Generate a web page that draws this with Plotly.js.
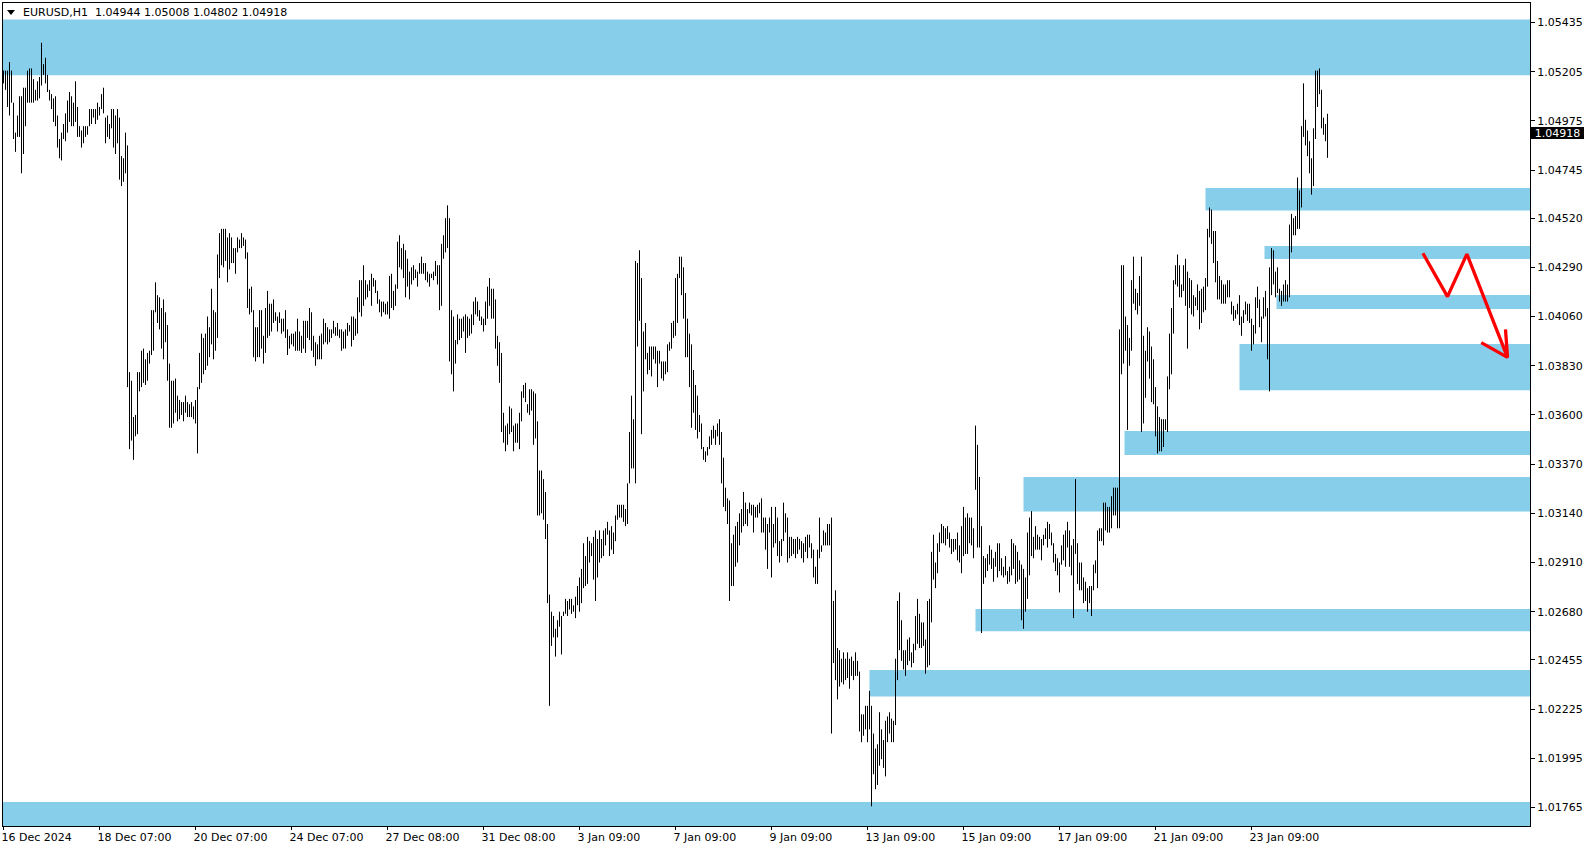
<!DOCTYPE html>
<html><head><meta charset="utf-8">
<script src="https://cdn.plot.ly/plotly-3.0.1.min.js"></script>
<style>html,body{margin:0;padding:0;background:#fff;overflow:hidden}#chart{width:1594px;height:850px}</style>
</head><body><div id="chart"></div>
<script>
// ---- data ----
const symbolLabel = "EURUSD,H1";
const lastBar = {open: 1.04944, high: 1.05008, low: 1.04802, close: 1.04918};

const barHigh = [
1.0521,1.0521,1.0521,1.0525,1.0521,1.0506,1.0492,1.0500,1.0509,1.0509,
1.0513,1.0513,1.0521,1.0522,1.0522,1.0517,1.0512,1.0516,1.0518,1.0534,
1.0524,1.0527,1.0519,1.0512,1.0510,1.0508,1.0509,1.0500,1.0489,1.0492,
1.0496,1.0501,1.0507,1.0511,1.0509,1.0506,1.0516,1.0504,1.0495,1.0493,
1.0495,1.0495,1.0495,1.0503,1.0503,1.0503,1.0503,1.0506,1.0504,1.0510,
1.0513,1.0499,1.0500,1.0496,1.0503,1.0503,1.0500,1.0503,1.0499,1.0481,
1.0480,1.0492,1.0486,1.0380,1.0376,1.0359,1.0360,1.0380,1.0380,1.0390,
1.0391,1.0386,1.0389,1.0390,1.0409,1.0409,1.0422,1.0416,1.0415,1.0410,
1.0414,1.0408,1.0402,1.0384,1.0376,1.0376,1.0377,1.0369,1.0367,1.0366,
1.0366,1.0369,1.0366,1.0365,1.0366,1.0364,1.0367,1.0373,1.0389,1.0398,
1.0396,1.0398,1.0406,1.0401,1.0419,1.0409,1.0408,1.0435,1.0445,1.0447,
1.0447,1.0447,1.0443,1.0445,1.0443,1.0438,1.0438,1.0443,1.0442,1.0445,
1.0443,1.0442,1.0436,1.0419,1.0420,1.0409,1.0401,1.0401,1.0409,1.0409,
1.0397,1.0410,1.0418,1.0412,1.0412,1.0414,1.0408,1.0406,1.0408,1.0405,
1.0405,1.0409,1.0400,1.0397,1.0398,1.0398,1.0399,1.0405,1.0399,1.0397,
1.0404,1.0404,1.0404,1.0410,1.0408,1.0397,1.0394,1.0393,1.0397,1.0398,
1.0405,1.0403,1.0401,1.0400,1.0400,1.0404,1.0401,1.0403,1.0400,1.0400,
1.0399,1.0400,1.0403,1.0402,1.0406,1.0406,1.0405,1.0415,1.0423,1.0423,
1.0430,1.0423,1.0421,1.0423,1.0426,1.0424,1.0423,1.0418,1.0414,1.0413,
1.0413,1.0412,1.0413,1.0425,1.0426,1.0418,1.0421,1.0441,1.0444,1.0438,
1.0440,1.0437,1.0433,1.0427,1.0429,1.0430,1.0428,1.0427,1.0431,1.0434,
1.0431,1.0431,1.0427,1.0426,1.0426,1.0427,1.0432,1.0430,1.0430,1.0440,
1.0444,1.0452,1.0458,1.0452,1.0409,1.0406,1.0395,1.0407,1.0405,1.0405,
1.0406,1.0407,1.0406,1.0405,1.0407,1.0413,1.0415,1.0413,1.0409,1.0406,
1.0405,1.0413,1.0420,1.0424,1.0419,1.0419,1.0414,1.0397,1.0394,1.0389,
1.0361,1.0355,1.0356,1.0364,1.0363,1.0355,1.0356,1.0356,1.0361,1.0371,
1.0374,1.0375,1.0365,1.0372,1.0372,1.0371,1.0370,1.0357,1.0334,1.0334,
1.0330,1.0324,1.0309,1.0276,1.0268,1.0266,1.0260,1.0264,1.0268,1.0266,
1.0268,1.0274,1.0273,1.0274,1.0274,1.0271,1.0275,1.0280,1.0284,1.0288,
1.0300,1.0294,1.0303,1.0301,1.0300,1.0303,1.0306,1.0302,1.0306,1.0302,
1.0306,1.0307,1.0310,1.0306,1.0308,1.0305,1.0313,1.0318,1.0318,1.0318,
1.0318,1.0316,1.0328,1.0352,1.0369,1.0358,1.0432,1.0431,1.0437,1.0424,
1.0399,1.0403,1.0389,1.0392,1.0392,1.0392,1.0392,1.0390,1.0390,1.0385,
1.0385,1.0385,1.0393,1.0394,1.0403,1.0404,1.0424,1.0426,1.0434,1.0434,
1.0429,1.0417,1.0405,1.0398,1.0393,1.0381,1.0374,1.0369,1.0360,1.0356,
1.0345,1.0343,1.0345,1.0350,1.0353,1.0355,1.0353,1.0356,1.0358,1.0352,
1.0340,1.0326,1.0321,1.0320,1.0300,1.0304,1.0308,1.0310,1.0314,1.0316,
1.0324,1.0319,1.0316,1.0319,1.0318,1.0318,1.0317,1.0318,1.0319,1.0321,
1.0312,1.0312,1.0309,1.0312,1.0317,1.0309,1.0317,1.0312,1.0301,1.0302,
1.0319,1.0314,1.0312,1.0303,1.0303,1.0302,1.0302,1.0303,1.0302,1.0301,
1.0300,1.0303,1.0304,1.0304,1.0300,1.0297,1.0289,1.0297,1.0312,1.0299,
1.0306,1.0305,1.0309,1.0309,1.0312,1.0273,1.0278,1.0251,1.0250,1.0246,
1.0249,1.0246,1.0249,1.0246,1.0247,1.0245,1.0249,1.0245,1.0240,1.0220,
1.0220,1.0224,1.0224,1.0231,1.0224,1.0211,1.0204,1.0206,1.0221,1.0213,
1.0208,1.0217,1.0219,1.0221,1.0218,1.0217,1.0246,1.0273,1.0277,1.0264,
1.0250,1.0250,1.0255,1.0256,1.0249,1.0253,1.0266,1.0274,1.0267,1.0263,
1.0263,1.0255,1.0273,1.0274,1.0296,1.0304,1.0291,1.0300,1.0305,1.0309,
1.0308,1.0307,1.0308,1.0305,1.0302,1.0302,1.0302,1.0305,1.0299,1.0308,
1.0317,1.0312,1.0314,1.0312,1.0312,1.0307,1.0355,1.0346,1.0331,1.0308,
1.0294,1.0293,1.0295,1.0299,1.0297,1.0293,1.0296,1.0300,1.0300,1.0293,
1.0289,1.0294,1.0287,1.0289,1.0302,1.0300,1.0299,1.0296,1.0292,1.0290,
1.0288,1.0284,1.0305,1.0312,1.0315,1.0303,1.0308,1.0304,1.0303,1.0302,
1.0304,1.0307,1.0310,1.0309,1.0305,1.0300,1.0295,1.0293,1.0291,1.0299,
1.0304,1.0306,1.0310,1.0306,1.0299,1.0302,1.0330,1.0300,1.0291,1.0291,
1.0284,1.0282,1.0279,1.0280,1.0280,1.0290,1.0292,1.0306,1.0307,1.0307,
1.0319,1.0319,1.0317,1.0317,1.0322,1.0326,1.0326,1.0326,1.0400,1.0430,
1.0430,1.0406,1.0402,1.0396,1.0423,1.0434,1.0419,1.0417,1.0425,1.0434,
1.0397,1.0390,1.0401,1.0399,1.0392,1.0386,1.0373,1.0364,1.0359,1.0358,
1.0358,1.0358,1.0378,1.0398,1.0410,1.0423,1.0430,1.0435,1.0430,1.0421,
1.0430,1.0433,1.0427,1.0424,1.0423,1.0416,1.0415,1.0421,1.0418,1.0419,
1.0420,1.0424,1.0447,1.0457,1.0456,1.0446,1.0446,1.0432,1.0425,1.0423,
1.0421,1.0421,1.0423,1.0423,1.0413,1.0411,1.0409,1.0412,1.0416,1.0406,
1.0409,1.0413,1.0412,1.0412,1.0405,1.0402,1.0415,1.0420,1.0414,1.0406,
1.0415,1.0418,1.0410,1.0429,1.0438,1.0437,1.0427,1.0429,1.0419,1.0418,
1.0421,1.0423,1.0421,1.0449,1.0454,1.0452,1.0453,1.0471,1.0465,1.0495,
1.0515,1.0498,1.0493,1.0488,1.0480,1.0494,1.0521,1.0521,1.0522,1.0512,
1.0499,1.0496,1.05008
];

const barLow = [
1.0515,1.0512,1.0504,1.0500,1.0506,1.0489,1.0483,1.0490,1.0490,1.0473,
1.0482,1.0495,1.0506,1.0506,1.0506,1.0506,1.0507,1.0507,1.0508,1.0514,
1.0519,1.0515,1.0511,1.0507,1.0503,1.0497,1.0495,1.0485,1.0480,1.0479,
1.0489,1.0488,1.0492,1.0497,1.0495,1.0495,1.0497,1.0490,1.0490,1.0485,
1.0487,1.0490,1.0491,1.0495,1.0496,1.0499,1.0496,1.0498,1.0500,1.0503,
1.0501,1.0487,1.0490,1.0489,1.0494,1.0485,1.0482,1.0487,1.0470,1.0467,
1.0469,1.0473,1.0373,1.0344,1.0348,1.0339,1.0350,1.0351,1.0371,1.0373,
1.0375,1.0374,1.0376,1.0384,1.0388,1.0390,1.0408,1.0403,1.0400,1.0391,
1.0386,1.0394,1.0376,1.0354,1.0354,1.0356,1.0361,1.0357,1.0358,1.0360,
1.0357,1.0361,1.0359,1.0359,1.0359,1.0358,1.0356,1.0342,1.0372,1.0375,
1.0379,1.0381,1.0383,1.0387,1.0393,1.0386,1.0390,1.0396,1.0424,1.0430,
1.0429,1.0432,1.0422,1.0428,1.0431,1.0431,1.0426,1.0436,1.0438,1.0438,
1.0439,1.0433,1.0410,1.0407,1.0408,1.0387,1.0385,1.0387,1.0387,1.0391,
1.0384,1.0389,1.0396,1.0397,1.0399,1.0403,1.0404,1.0399,1.0403,1.0398,
1.0399,1.0396,1.0388,1.0391,1.0393,1.0392,1.0390,1.0390,1.0390,1.0389,
1.0391,1.0389,1.0396,1.0395,1.0390,1.0387,1.0383,1.0386,1.0386,1.0386,
1.0393,1.0394,1.0393,1.0394,1.0396,1.0398,1.0397,1.0397,1.0396,1.0390,
1.0391,1.0391,1.0397,1.0399,1.0392,1.0395,1.0397,1.0398,1.0408,1.0406,
1.0411,1.0414,1.0415,1.0418,1.0411,1.0420,1.0417,1.0412,1.0408,1.0406,
1.0408,1.0407,1.0407,1.0405,1.0410,1.0409,1.0411,1.0419,1.0429,1.0428,
1.0424,1.0415,1.0420,1.0414,1.0421,1.0423,1.0424,1.0420,1.0426,1.0426,
1.0426,1.0423,1.0422,1.0420,1.0424,1.0423,1.0425,1.0421,1.0409,1.0411,
1.0433,1.0436,1.0438,1.0385,1.0379,1.0371,1.0384,1.0393,1.0395,1.0396,
1.0399,1.0389,1.0396,1.0397,1.0398,1.0402,1.0407,1.0406,1.0404,1.0402,
1.0399,1.0402,1.0405,1.0411,1.0405,1.0405,1.0391,1.0383,1.0375,1.0352,
1.0347,1.0343,1.0346,1.0351,1.0352,1.0343,1.0347,1.0347,1.0344,1.0357,
1.0368,1.0366,1.0361,1.0360,1.0362,1.0346,1.0349,1.0313,1.0313,1.0314,
1.0311,1.0302,1.0272,1.0224,1.0252,1.0256,1.0247,1.0256,1.0261,1.0248,
1.0266,1.0267,1.0266,1.0269,1.0267,1.0268,1.0265,1.0271,1.0268,1.0272,
1.0279,1.0280,1.0281,1.0291,1.0294,1.0283,1.0273,1.0284,1.0291,1.0293,
1.0294,1.0299,1.0304,1.0294,1.0297,1.0295,1.0301,1.0311,1.0312,1.0312,
1.0310,1.0308,1.0309,1.0328,1.0335,1.0335,1.0328,1.0392,1.0404,1.0351,
1.0371,1.0386,1.0379,1.0381,1.0378,1.0386,1.0384,1.0373,1.0384,1.0377,
1.0376,1.0379,1.0380,1.0390,1.0391,1.0396,1.0397,1.0403,1.0424,1.0416,
1.0405,1.0387,1.0387,1.0373,1.0354,1.0361,1.0353,1.0349,1.0352,1.0344,
1.0339,1.0338,1.0341,1.0344,1.0346,1.0349,1.0346,1.0350,1.0346,1.0328,
1.0317,1.0315,1.0309,1.0273,1.0280,1.0280,1.0289,1.0291,1.0299,1.0305,
1.0308,1.0309,1.0308,1.0314,1.0313,1.0305,1.0312,1.0312,1.0314,1.0305,
1.0305,1.0297,1.0288,1.0305,1.0284,1.0298,1.0300,1.0294,1.0291,1.0294,
1.0301,1.0305,1.0291,1.0293,1.0294,1.0295,1.0293,1.0295,1.0297,1.0293,
1.0291,1.0296,1.0293,1.0298,1.0293,1.0284,1.0281,1.0281,1.0293,1.0296,
1.0299,1.0299,1.0299,1.0299,1.0211,1.0244,1.0236,1.0227,1.0233,1.0235,
1.0234,1.0236,1.0237,1.0232,1.0238,1.0236,1.0238,1.0238,1.0212,1.0207,
1.0210,1.0213,1.0207,1.0213,1.0177,1.0192,1.0185,1.0187,1.0196,1.0199,
1.0195,1.0191,1.0207,1.0211,1.0207,1.0207,1.0215,1.0236,1.0250,1.0245,
1.0241,1.0238,1.0243,1.0245,1.0242,1.0244,1.0250,1.0253,1.0251,1.0251,
1.0252,1.0239,1.0242,1.0243,1.0263,1.0283,1.0279,1.0286,1.0296,1.0300,
1.0300,1.0299,1.0302,1.0298,1.0295,1.0296,1.0297,1.0292,1.0291,1.0286,
1.0294,1.0295,1.0295,1.0300,1.0299,1.0293,1.0325,1.0298,1.0298,1.0258,
1.0281,1.0284,1.0287,1.0290,1.0288,1.0282,1.0289,1.0284,1.0287,1.0285,
1.0284,1.0285,1.0281,1.0282,1.0285,1.0288,1.0281,1.0282,1.0283,1.0264,
1.0260,1.0268,1.0274,1.0285,1.0294,1.0293,1.0297,1.0297,1.0297,1.0292,
1.0299,1.0302,1.0298,1.0302,1.0299,1.0291,1.0287,1.0285,1.0277,1.0290,
1.0292,1.0289,1.0298,1.0289,1.0285,1.0265,1.0295,1.0281,1.0278,1.0278,
1.0272,1.0273,1.0268,1.0272,1.0266,1.0278,1.0286,1.0279,1.0301,1.0301,
1.0299,1.0306,1.0305,1.0305,1.0307,1.0313,1.0313,1.0307,1.0307,1.0379,
1.0384,1.0390,1.0353,1.0383,1.0390,1.0412,1.0409,1.0407,1.0411,1.0352,
1.0356,1.0368,1.0385,1.0377,1.0366,1.0365,1.0350,1.0342,1.0343,1.0343,
1.0345,1.0353,1.0352,1.0372,1.0379,1.0398,1.0421,1.0420,1.0415,1.0415,
1.0418,1.0411,1.0391,1.0410,1.0407,1.0406,1.0411,1.0409,1.0400,1.0403,
1.0408,1.0409,1.0420,1.0443,1.0440,1.0431,1.0422,1.0414,1.0414,1.0412,
1.0412,1.0412,1.0415,1.0415,1.0407,1.0404,1.0405,1.0407,1.0402,1.0397,
1.0403,1.0407,1.0404,1.0403,1.0390,1.0393,1.0398,1.0410,1.0401,1.0394,
1.0405,1.0406,1.0386,1.0371,1.0416,1.0421,1.0415,1.0417,1.0413,1.0411,
1.0413,1.0413,1.0413,1.0415,1.0436,1.0444,1.0444,1.0447,1.0447,1.0457,
1.0490,1.0486,1.0481,1.0473,1.0463,1.0467,1.0489,1.0504,1.0510,1.0494,
1.0491,1.0488,1.04802
];

// time axis labels (bar index where each label sits)
const timeTickBars = [0,48,96,144,192,240,288,336,384,432,480,528,576,624];
const timeTickLabels = ["16 Dec 2024","18 Dec 07:00","20 Dec 07:00","24 Dec 07:00","27 Dec 08:00","31 Dec 08:00","3 Jan 09:00","7 Jan 09:00","9 Jan 09:00","13 Jan 09:00","15 Jan 09:00","17 Jan 09:00","21 Jan 09:00","23 Jan 09:00"];

// price scale labels
const priceTicks = [1.05435,1.05205,1.04975,1.04745,1.04520,1.04290,1.04060,1.03830,1.03600,1.03370,1.03140,1.02910,1.02680,1.02455,1.02225,1.01995,1.01765];

// zones (rectangles): start bar (null = from left edge), top and bottom price
const zoneStartBar = [null, 601, 630.5, 636.5, 618, 560.5, 510, 486, 433, null];
const zoneTop      = [1.05449, 1.04661, 1.04390, 1.04161, 1.03932, 1.03525, 1.03310, 1.02693, 1.02407, 1.01790];
const zoneBottom   = [1.05188, 1.04556, 1.04329, 1.04095, 1.03715, 1.03413, 1.03149, 1.02588, 1.02284, 1.01600];

// hand-drawn red arrow (bar index, price)
const arrowBar   = [709.7, 722, 731.7, 752, null, 738.9, 752, 751];
const arrowPrice = [1.04356, 1.04153, 1.04352, 1.03869, null, 1.03938, 1.03869, 1.04000];

// ---- build ----
const W = 1594, H = 850;
const M = {l: 3, r: 64, t: 3, b: 24};
const plotW = W - M.l - M.r, plotH = H - M.t - M.b;
const xRange = [-0.25, -0.25 + plotW / 2];        // 2 px per bar
const yRange = [1.01678, 1.05526];

const bx = [], by = [];
for (let i = 0; i < barHigh.length; i++) {
  bx.push(i, i, null);
  by.push(barLow[i], barHigh[i], null);
}

const FONT = "DejaVu Sans, Verdana, sans-serif";

const traces = [
  {type: 'scatter', mode: 'lines', x: bx, y: by, line: {color: '#000000', width: 1},
   hoverinfo: 'skip', showlegend: false, connectgaps: false},
  {type: 'scatter', mode: 'lines', x: arrowBar, y: arrowPrice,
   line: {color: '#ff0000', width: 3.3}, hoverinfo: 'skip', showlegend: false,
   connectgaps: false, cliponaxis: true}
];

const shapes = zoneTop.map((t, k) => ({
  type: 'rect', xref: 'x', yref: 'y', layer: 'below',
  x0: zoneStartBar[k] === null ? xRange[0] : zoneStartBar[k], x1: xRange[1],
  y0: zoneBottom[k], y1: t,
  fillcolor: '#87ceeb', line: {width: 0}
}));
// header triangle
const px = v => (v - M.l) / plotW, py = v => (H - M.b - v) / plotH;
shapes.push({type: 'path', xref: 'paper', yref: 'paper', layer: 'above',
  path: `M ${px(7)} ${py(10)} L ${px(15)} ${py(10)} L ${px(11)} ${py(15)} Z`,
  fillcolor: '#000', line: {width: 0}});

const annotations = [
  {xref: 'paper', yref: 'paper', x: px(21), y: py(12.5), xanchor: 'left', yanchor: 'middle',
   showarrow: false, font: {family: FONT, size: 11, color: '#000'},
   text: symbolLabel + '\u00a0\u00a0' + [lastBar.open, lastBar.high, lastBar.low, lastBar.close].map(v => v.toFixed(5)).join(' ')},
  {xref: 'paper', yref: 'y', x: px(1531), y: lastBar.close, xanchor: 'left', yanchor: 'middle',
   showarrow: false, text: lastBar.close.toFixed(5), bgcolor: '#000', borderwidth: 0, borderpad: 0,
   width: 53, height: 12, font: {family: FONT, size: 11, color: '#fff'}}
];

const layout = {
  width: W, height: H, margin: M, paper_bgcolor: '#fff', plot_bgcolor: '#fff',
  showlegend: false, hovermode: false, dragmode: false,
  xaxis: {range: xRange, showgrid: false, zeroline: false, showline: true, mirror: true,
    linecolor: '#000', linewidth: 1, ticks: 'outside', ticklen: 3, tickcolor: '#000',
    tickmode: 'array', tickvals: timeTickBars, ticktext: timeTickLabels,
    ticklabelposition: 'outside right', ticklabelshift: -3, ticklabelstandoff: 1,
    tickfont: {family: FONT, size: 11, color: '#000'}},
  yaxis: {range: yRange, side: 'right', showgrid: false, zeroline: false, showline: true, mirror: true,
    linecolor: '#000', linewidth: 1, ticks: 'outside', ticklen: 4, tickcolor: '#000',
    tickmode: 'array', tickvals: priceTicks, ticktext: priceTicks.map(v => v.toFixed(5)),
    tickfont: {family: FONT, size: 11, color: '#000'}},
  shapes: shapes, annotations: annotations
};

Plotly.newPlot('chart', traces, layout, {staticPlot: true, displayModeBar: false});
</script>
</body></html>
